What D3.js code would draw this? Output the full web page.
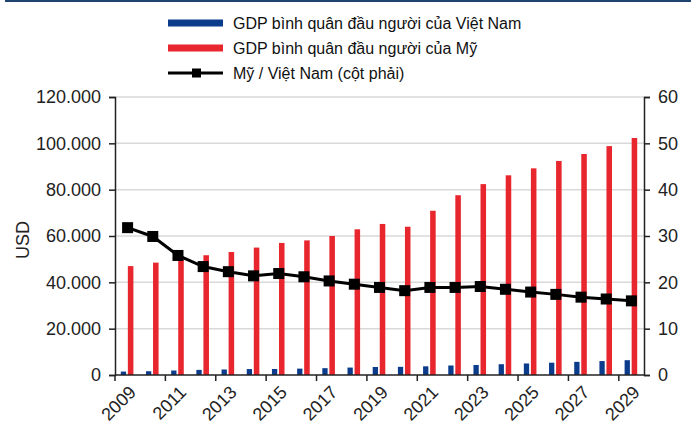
<!DOCTYPE html>
<html>
<head>
<meta charset="utf-8">
<script src="https://cdn.jsdelivr.net/npm/d3@7"></script>
<style>
  body { margin: 0; background: #fff; }
  svg { font-family: "Liberation Sans", Arial, sans-serif; }
</style>
</head>
<body>
<div id="chart"></div>
<script>
const years = d3.range(2009, 2030);
const gdpVietnam = [1480, 1620, 1940, 2210, 2380, 2560, 2600, 2750, 2950, 3210, 3450, 3520, 3750, 4100, 4320, 4660, 4980, 5310, 5680, 6020, 6390];
const gdpUS = [47000, 48500, 50000, 51700, 53100, 55000, 57000, 58100, 60000, 62900, 65200, 64000, 70900, 77600, 82400, 86200, 89200, 92400, 95400, 98800, 102300];
const ratio = [31.8, 29.9, 25.8, 23.4, 22.3, 21.4, 21.9, 21.2, 20.3, 19.6, 18.9, 18.2, 18.9, 18.9, 19.1, 18.5, 17.9, 17.4, 16.8, 16.4, 16.0];
const leftTicks = [0, 20000, 40000, 60000, 80000, 100000, 120000];
const rightTicks = [0, 10, 20, 30, 40, 50, 60];
const labelYears = years.filter(y => (y - 2009) % 2 === 0);
const legendItems = [
  { label: 'GDP bình quân đầu người của Việt Nam', color: '#0b3c8c', type: 'bar' },
  { label: 'GDP bình quân đầu người của Mỹ', color: '#e8262e', type: 'bar' },
  { label: 'Mỹ / Việt Nam (cột phải)', color: '#000', type: 'line' }
];

const width = 691, height = 430;
const plot = { left: 115, right: 644, top: 97, bottom: 375 };

const svg = d3.select('#chart').append('svg')
  .attr('width', width)
  .attr('height', height);

// top rule
svg.append('line')
  .attr('x1', 5).attr('x2', width).attr('y1', 1).attr('y2', 1)
  .attr('stroke', '#1f4470').attr('stroke-width', 2);

const x = d3.scaleBand().domain(years).range([plot.left, plot.right]).padding(0);
const yL = d3.scaleLinear().domain([0, 120000]).range([plot.bottom, plot.top]);
const yR = d3.scaleLinear().domain([0, 60]).range([plot.bottom, plot.top]);
const bw = x.bandwidth();
const fmt = d => d3.format(',')(d).replace(/,/g, '.');

// grid
svg.append('g').selectAll('line')
  .data(leftTicks.filter(d => d > 0))
  .enter().append('line')
  .attr('x1', plot.left).attr('x2', plot.right)
  .attr('y1', d => yL(d)).attr('y2', d => yL(d))
  .attr('stroke', '#d9d9d9').attr('stroke-width', 1.5);

// bars
svg.append('g').selectAll('rect')
  .data(years)
  .enter().append('rect')
  .attr('x', d => x(d) + bw * 0.23)
  .attr('width', bw * 0.21)
  .attr('y', (d, i) => yL(gdpVietnam[i]))
  .attr('height', (d, i) => plot.bottom - yL(gdpVietnam[i]))
  .attr('fill', legendItems[0].color);

svg.append('g').selectAll('rect')
  .data(years)
  .enter().append('rect')
  .attr('x', d => x(d) + bw * 0.51)
  .attr('width', bw * 0.22)
  .attr('y', (d, i) => yL(gdpUS[i]))
  .attr('height', (d, i) => plot.bottom - yL(gdpUS[i]))
  .attr('fill', legendItems[1].color);

// axes
const axisColor = '#222';
const gL = svg.append('g')
  .attr('transform', `translate(${plot.left},0)`)
  .call(d3.axisLeft(yL).tickValues(leftTicks).tickFormat(fmt).tickSize(6).tickPadding(8));
const gR = svg.append('g')
  .attr('transform', `translate(${plot.right},0)`)
  .call(d3.axisRight(yR).tickValues(rightTicks).tickSize(6).tickPadding(8));
const gX = svg.append('g')
  .attr('transform', `translate(0,${plot.bottom})`);
gX.append('line')
  .attr('x1', plot.left).attr('x2', plot.right)
  .attr('stroke', axisColor).attr('stroke-width', 1.5);
gX.selectAll('.tk')
  .data(labelYears)
  .enter().append('line')
  .attr('x1', d => x(d)).attr('x2', d => x(d))
  .attr('y1', 0).attr('y2', 6)
  .attr('stroke', axisColor).attr('stroke-width', 1.5);
gX.selectAll('text')
  .data(labelYears)
  .enter().append('text')
  .attr('transform', d => `translate(${x(d) + bw / 2 + 5},${14}) rotate(-45)`)
  .attr('text-anchor', 'end')
  .attr('dy', '0.35em')
  .attr('font-size', 18)
  .attr('fill', '#222')
  .text(d => d);

[gL, gR].forEach(g => {
  g.select('.domain').attr('stroke', axisColor).attr('stroke-width', 1.5);
  g.selectAll('.tick line').attr('stroke', axisColor).attr('stroke-width', 1.5);
  g.selectAll('.tick text').attr('font-size', 18).attr('fill', '#222')
    .attr('font-family', '"Liberation Sans", Arial, sans-serif');
});

svg.append('text')
  .attr('transform', `translate(29,${(plot.top + plot.bottom) / 2 + 4}) rotate(-90)`)
  .attr('text-anchor', 'middle')
  .attr('font-size', 18)
  .attr('fill', '#222')
  .text('USD');

// ratio line
const line = d3.line()
  .x(d => x(d) + bw / 2)
  .y((d, i) => yR(ratio[i]));
svg.append('path')
  .datum(years)
  .attr('d', line)
  .attr('fill', 'none')
  .attr('stroke', '#000')
  .attr('stroke-width', 3);
svg.append('g').selectAll('rect')
  .data(years)
  .enter().append('rect')
  .attr('x', d => x(d) + bw / 2 - 5.5)
  .attr('y', (d, i) => yR(ratio[i]) - 5.5)
  .attr('width', 11).attr('height', 11)
  .attr('fill', '#000');

// legend
const lg = svg.append('g').selectAll('g')
  .data(legendItems)
  .enter().append('g')
  .attr('transform', (d, i) => `translate(168,${23 + i * 25})`);
lg.filter(d => d.type === 'bar').append('rect')
  .attr('x', 0).attr('y', -3.5).attr('width', 55).attr('height', 7)
  .attr('fill', d => d.color);
lg.filter(d => d.type === 'line').append('line')
  .attr('x1', 0).attr('x2', 55).attr('stroke', '#000').attr('stroke-width', 3);
lg.filter(d => d.type === 'line').append('rect')
  .attr('x', 24).attr('y', -4.5).attr('width', 9).attr('height', 9).attr('fill', '#000');
lg.append('text')
  .attr('x', 65).attr('dy', '0.35em')
  .attr('font-size', 16).attr('fill', '#111')
  .text(d => d.label);
</script>
</body>
</html>
